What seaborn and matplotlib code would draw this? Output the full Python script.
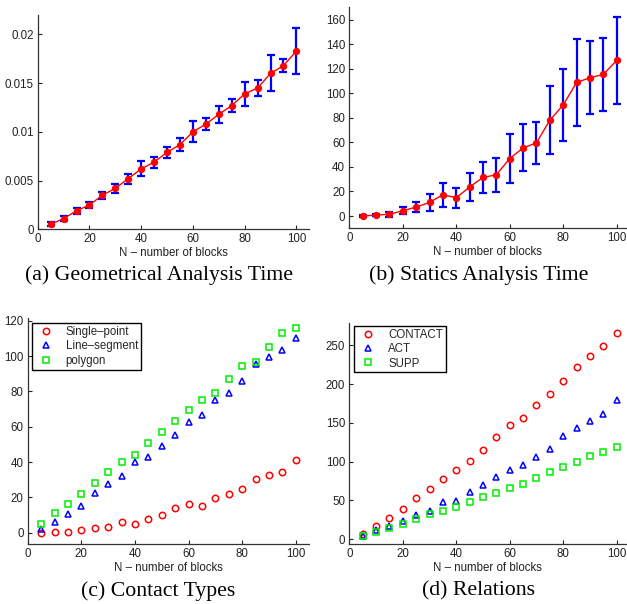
import numpy as np
import pandas as pd
import matplotlib
matplotlib.use("Agg")
import matplotlib.pyplot as plt
import seaborn as sns

# ---------------- data ----------------
N = [5, 10, 15, 20, 25, 30, 35, 40, 45, 50, 55, 60, 65, 70, 75, 80, 85, 90, 95, 100]

geo_time = [0.0005, 0.0011, 0.0019, 0.0025, 0.0035, 0.0042, 0.0052, 0.0062, 0.0069, 0.0079,
            0.0087, 0.0100, 0.0108, 0.0118, 0.0127, 0.0139, 0.0145, 0.0160, 0.0168, 0.0183]
geo_err = [0.0002, 0.00026, 0.00031, 0.00034, 0.00034, 0.00044, 0.00051, 0.00077, 0.00056, 0.00058,
           0.00065, 0.00108, 0.00058, 0.00089, 0.00063, 0.0012, 0.00084, 0.00185, 0.00065, 0.00236]

stat_time = [0.0, 0.8, 1.4, 4.3, 7.3, 11.1, 17.3, 14.9, 23.6, 31.4,
             33.6, 46.8, 55.5, 59.6, 78.0, 90.4, 108.8, 112.6, 115.3, 126.7]
stat_err = [1.0, 1.0, 2.0, 3.0, 4.0, 7.2, 9.7, 8.3, 11.5, 12.9,
            13.8, 19.9, 19.1, 17.3, 27.6, 29.6, 35.6, 29.9, 29.6, 35.1]

single_point = [0.0, 0.2, 0.4, 1.7, 2.8, 3.4, 6.0, 4.9, 7.9, 10.0,
                14.0, 16.0, 15.1, 19.6, 21.9, 24.9, 30.4, 32.5, 34.2, 40.9]
line_segment = [2.3, 5.8, 10.8, 15.1, 22.5, 27.7, 31.9, 40.0, 42.8, 49.2,
                55.1, 62.5, 66.8, 75.3, 79.2, 85.7, 95.7, 99.6, 103.6, 110.4]
polygon = [5.1, 10.9, 16.4, 21.9, 28.3, 34.2, 39.8, 44.2, 50.9, 56.8,
           63.4, 69.4, 75.1, 78.9, 87.0, 94.5, 96.8, 105.3, 113.2, 115.7]

contact = [6.4, 16.7, 27.4, 38.6, 53.6, 65.2, 77.6, 88.8, 101.2, 115.4,
           131.6, 147.1, 156.1, 173.2, 186.5, 204.1, 221.7, 235.8, 249.1, 265.9]
act = [4.7, 12.0, 17.2, 23.6, 30.9, 36.9, 47.6, 49.7, 60.9, 69.5,
       79.8, 89.6, 96.1, 106.3, 116.6, 132.5, 142.8, 152.7, 161.2, 179.2]
supp = [4.3, 9.9, 14.6, 19.7, 26.2, 32.2, 36.9, 42.0, 48.0, 54.5,
        60.0, 66.0, 71.6, 79.3, 86.2, 92.6, 99.1, 107.6, 111.9, 118.4]

x_ticks = [0, 20, 40, 60, 80, 100]
geo_ticks = [0, 0.005, 0.01, 0.015, 0.02]
geo_tick_labels = ["0", "0.005", "0.01", "0.015", "0.02"]
stat_ticks = [0, 20, 40, 60, 80, 100, 120, 140, 160]
types_ticks = [0, 20, 40, 60, 80, 100, 120]
rel_ticks = [0, 50, 100, 150, 200, 250]

xlabel = "N – number of blocks"
captions = ["(a) Geometrical Analysis Time", "(b) Statics Analysis Time",
            "(c) Contact Types", "(d) Relations"]
types_labels = ["Single–point", "Line–segment", "polygon"]
rel_labels = ["CONTACT", "ACT", "SUPP"]

# ---------------- style ----------------
sns.set_style("ticks")
plt.rcParams["font.family"] = ["Liberation Sans", "DejaVu Sans"]

W, H = 627, 604
fig = plt.figure(figsize=(W / 100, H / 100), dpi=100)


def make_ax(left, top, right, bottom):
    return fig.add_axes([left / W, 1 - bottom / H, (right - left) / W, (bottom - top) / H])


def style_ax(ax):
    for s in ["top", "right"]:
        ax.spines[s].set_visible(False)
    for s in ["left", "bottom"]:
        ax.spines[s].set_color("#333333")
        ax.spines[s].set_linewidth(0.9)
    ax.tick_params(direction="in", length=3, width=0.8, labelsize=8.3,
                   colors="#222222", pad=3)
    ax.set_xticks(x_ticks)
    ax.set_xlabel(xlabel, fontsize=8.3, color="#222222", labelpad=1)
    ax.set_ylabel("")


RED = "#ff0000"
BLUE = "#0000ff"
GREEN = "#00ee00"

df = pd.DataFrame({"N": N, "geo": geo_time, "geo_err": geo_err,
                   "stat": stat_time, "stat_err": stat_err,
                   "single": single_point, "line": line_segment, "poly": polygon,
                   "contact": contact, "act": act, "supp": supp})


def add_legend(ax, anchor):
    leg = ax.legend(loc="upper left", bbox_to_anchor=anchor, borderaxespad=0,
                    fontsize=8.3, frameon=True, fancybox=False, framealpha=1,
                    edgecolor="black", handlelength=2.0, handletextpad=0.7,
                    labelspacing=0.2, borderpad=0.25)
    leg.get_frame().set_linewidth(1.0)


# (a)
ax = make_ax(37.7, 15, 309.3, 229.3)
ax.errorbar(df["N"], df["geo"], yerr=df["geo_err"], fmt="none", ecolor=BLUE,
            elinewidth=1.6, capsize=2.6, capthick=1.6, zorder=2)
sns.lineplot(data=df, x="N", y="geo", ax=ax, color=RED, marker="o", markersize=4.5,
             markeredgecolor=RED, linewidth=1.0, zorder=3)
ax.set_xlim(0, 105)
ax.set_ylim(0, 0.022)
ax.set_yticks(geo_ticks)
ax.set_yticklabels(geo_tick_labels)
style_ax(ax)

# (b)
ax = make_ax(349.3, 7.3, 626, 228.3)
ax.errorbar(df["N"], df["stat"], yerr=df["stat_err"], fmt="none", ecolor=BLUE,
            elinewidth=1.6, capsize=2.6, capthick=1.6, zorder=2)
sns.lineplot(data=df, x="N", y="stat", ax=ax, color=RED, marker="o", markersize=4.5,
             markeredgecolor=RED, linewidth=1.0, zorder=3)
ax.set_xlim(0, 103.5)
ax.set_ylim(-10, 170)
ax.set_yticks(stat_ticks)
style_ax(ax)

# (c)
ax = make_ax(27.7, 318.3, 309.3, 544.3)
for col, lab, mk, c in zip(["single", "line", "poly"], types_labels, ["o", "^", "s"],
                           [RED, BLUE, GREEN]):
    sns.lineplot(data=df, x="N", y=col, ax=ax, linestyle="", marker=mk,
                 markersize=4.6 if mk != "s" else 4.0, markerfacecolor="none",
                 markeredgecolor=c, markeredgewidth=1.1, color=c, label=lab)
ax.set_xlim(0, 105)
ax.set_ylim(-6.6, 121.4)
ax.set_yticks(types_ticks)
style_ax(ax)
add_legend(ax, (0.014, 0.978))

# (d)
ax = make_ax(349.3, 322.7, 626, 544.3)
for col, lab, mk, c in zip(["contact", "act", "supp"], rel_labels, ["o", "^", "s"],
                           [RED, BLUE, GREEN]):
    sns.lineplot(data=df, x="N", y=col, ax=ax, linestyle="", marker=mk,
                 markersize=4.6 if mk != "s" else 4.0, markerfacecolor="none",
                 markeredgecolor=c, markeredgewidth=1.1, color=c, label=lab)
ax.set_xlim(0, 103.5)
ax.set_ylim(-6.5, 279)
ax.set_yticks(rel_ticks)
style_ax(ax)
add_legend(ax, (0.017, 0.985))

# captions
cap_pos = [(159, 275), (479, 275.5), (158, 591.5), (479, 591)]
for (cx, cy), txt in zip(cap_pos, captions):
    fig.text(cx / W, 1 - cy / H, txt, ha="center", va="center", fontsize=15.7,
             family=["Liberation Serif", "DejaVu Serif"], color="black")

fig.savefig("out.png", dpi=100)
